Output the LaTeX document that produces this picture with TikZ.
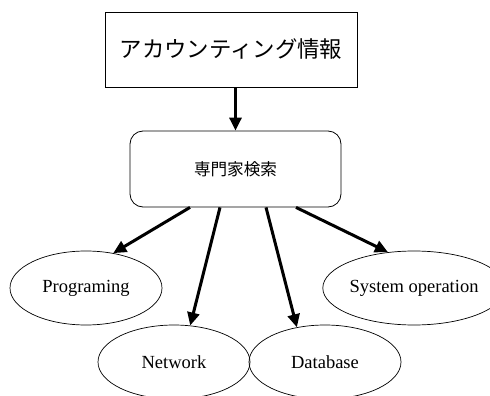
\documentclass[tikz,border=0pt]{standalone}
\usepackage{fontspec}
\setmainfont{Liberation Serif}
\newfontfamily\jpfont{Noto Sans CJK JP}
\usetikzlibrary{arrows.meta,shapes.geometric}

\begin{document}
\begin{tikzpicture}[x=1pt,y=-1pt,
  infobox/.style={draw,line width=0.8pt,minimum width=252pt,minimum height=75pt,inner sep=0pt},
  searchbox/.style={draw,line width=0.8pt,rounded corners=13pt,minimum width=211pt,minimum height=76pt,inner sep=0pt},
  field/.style={draw,ellipse,line width=0.7pt,minimum width=152pt,minimum height=74pt,inner sep=0pt,font=\fontsize{18.5}{22}\selectfont},
  arr/.style={line width=3pt,-{Triangle[length=13pt,width=12pt]}}
]

\useasboundingbox (0,0) rectangle (490,396);

% Accounting information
\node[infobox,font=\jpfont\fontsize{22.4}{26}\selectfont] (info) at (231,49.5) {アカウンティング情報};

% Expert search
\node[searchbox,font=\jpfont\fontsize{16.6}{20}\selectfont] (search) at (235.5,169) {専門家検索};

% Fields
\node[field] (prog) at (86,288) {Programing};
\node[field] (net) at (174,362) {Network};
\node[field] (db) at (325,362) {Database};
\node[field] (sys) at (414,288) {System operation};

% Arrows
\draw[arr] (info.south -| search.north) -- (search.north);
\draw[arr] ([xshift=-45.5pt]search.south) -- (prog.52);
\draw[arr] ([xshift=-15.5pt]search.south) -- (net.66);
\draw[arr] ([xshift=30.5pt]search.south) -- (db.129);
\draw[arr] ([xshift=60.5pt]search.south) -- (sys.126);

\end{tikzpicture}
\end{document}
